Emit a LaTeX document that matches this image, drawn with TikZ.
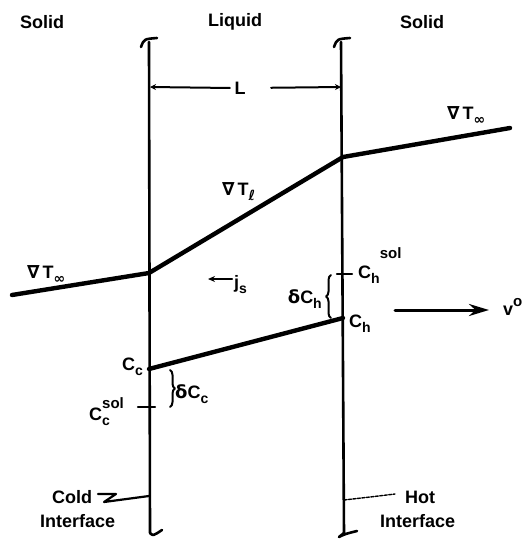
\documentclass[tikz,border=0pt]{standalone}
\usepackage{fontspec}
\setmainfont{Liberation Sans}
\newfontfamily\symfont{DejaVu Sans}
\usetikzlibrary{arrows.meta,decorations.pathreplacing}

% indices of the hand lettering
\newcommand{\lowidx}[1]{\raisebox{-0.28em}{\fontsize{14}{14}\selectfont #1}}
\newcommand{\upidx}[2][0.62em]{\raisebox{#1}{\fontsize{15}{15}\selectfont #2}}
\newcommand{\grad}{{\symfont ∇}\,T}

\begin{document}
\begin{tikzpicture}[
    x={(1pt,0pt)},
    y={(0pt,-1pt)},
    line cap=round,
    line join=round,
    font=\fontsize{18}{20}\selectfont\bfseries,
    wall/.style={line width=2.6pt},
    profile/.style={line width=4.4pt},
    tickmark/.style={line width=2.2pt},
    lbl/.style={inner sep=0pt,anchor=base west},
    curly/.style={line width=2pt,decorate,decoration={brace,amplitude=5pt}},
    dimline/.style={line width=2pt},
    leader/.style={line width=2.2pt},
    hotleader/.style={line width=1.4pt,dash pattern=on 3pt off 1.5pt}
]

\useasboundingbox (0,0) rectangle (526,539);

% =========================================================
% Parameters
% =========================================================

\def\xc{149}    % cold interface
\def\xh{343}    % hot interface
\def\ytop{42}   % upper end of the interfaces
\def\ybot{533}  % lower end of the interfaces

% =========================================================
% Points of the profiles
% =========================================================

\coordinate (T0) at (12,295);
\coordinate (T1) at (\xc,273);
\coordinate (T2) at (\xh,157);
\coordinate (T3) at (510,128);

\coordinate (Cc) at (\xc,369);
\coordinate (Ch) at (\xh,318);

\coordinate (Ccsol) at (\xc,407);
\coordinate (Chsol) at (\xh,274);

% =========================================================
% Phase labels
% =========================================================

\node (solidL) at (42,22)  {Solid};
\node (liquid) at (235,22) {Liquid};
\node (solidR) at (422,22) {Solid};

% =========================================================
% Interfaces
% =========================================================

\draw[wall] (\xc,\ytop) -- (\xc+1,\ybot);
\draw[wall] (\xh-2,\ytop) -- (\xh+1,\ybot);

\draw[wall] (141,47) .. controls (144,39) .. (157,38);
\draw[wall] (334,47) .. controls (337,39) .. (350,38);
\draw[wall] (\xc+1,\ybot) .. controls (153,536) .. (162,530);
\draw[wall] (\xh+1,\ybot) -- (339,537) .. controls (345,534) .. (357,531);

% =========================================================
% Width of the liquid zone
% =========================================================

\coordinate (Lleft)  at (\xc+1,87);
\coordinate (Lright) at (\xh-2,87);
\node (Lmark) at (240,88) {L};

\draw[dimline,-{Stealth[length=6pt,width=6pt]},shorten <=1pt] (Lmark.west) -- (Lleft);
\draw[dimline,-{Stealth[length=6pt,width=6pt]},shorten <=22pt] (Lmark.east) -- (Lright);

% =========================================================
% Temperature profile
% =========================================================

\draw[profile] (T0) -- (T1) -- (T2) -- (T3);

\node[lbl] (gradL) at (27,278)  {\grad\lowidx{\symfont ∞}};
\node[lbl] (gradR) at (447,119) {\grad\lowidx{\symfont ∞}};
\node[lbl] (gradl) at (222,195) {\grad\lowidx{\symfont ℓ}};

% =========================================================
% Solute flux
% =========================================================

\node[lbl] (js) at (234,288) {j\lowidx{s}};
\coordinate (jstail) at (232,279);
\coordinate (jshead) at (208,279);
\draw[line width=2.2pt,-{Stealth[length=7pt,width=6pt]}] (jstail) -- (jshead);

% =========================================================
% Concentration profile
% =========================================================

\draw[profile] (Cc) -- (Ch);

\draw[tickmark] (138,407) -- (155,407);
\draw[tickmark] (337,274) -- (352,274);

\node[lbl] (CcLbl)    at (122,370) {C\lowidx{c}};
\node[lbl] (CcsolLbl) at (89,420)  {C\rlap{\upidx{sol}}\lowidx{c}};
\node[lbl] (ChLbl)    at (349,327) {C\lowidx{h}};
\node[lbl] (ChsolLbl) at (358,278) {C\lowidx{h}\upidx[1.1em]{sol}};

\draw[curly] (170,370) -- (170,407);
\draw[curly] (331,318) -- (331,275);

\node[lbl] (dCc) at (175,398) {{\symfont δ}C\lowidx{c}};
\node[lbl,anchor=base east] (dCh) at (322,303) {{\symfont δ}C\lowidx{h}};

% =========================================================
% Growth velocity
% =========================================================

\node[lbl] (vo) at (503,315) {v\upidx[0.45em]{o}};
\coordinate (vtail) at (395,310);
\draw[line width=3pt,-{Stealth[length=20pt,width=12pt]},shorten >=14pt] (vtail) -- (vo.west |- vtail);

% =========================================================
% Interface names
% =========================================================

\node[lbl] (cold)   at (52,503)  {Cold};
\node[lbl] (coldIf) at (40,527)  {Interface};
\node[lbl] (hot)    at (405,503) {Hot};
\node[lbl] (hotIf)  at (380,527) {Interface};

\coordinate (coldpt) at (\xc,496);
\coordinate (hotpt)  at (\xh+1,500);

\draw[leader] (98,494) -- (116,494) -- (104,502) -- (coldpt);
\draw[hotleader] (hotpt) -- (370,497) -- (395,494);

\end{tikzpicture}
\end{document}
